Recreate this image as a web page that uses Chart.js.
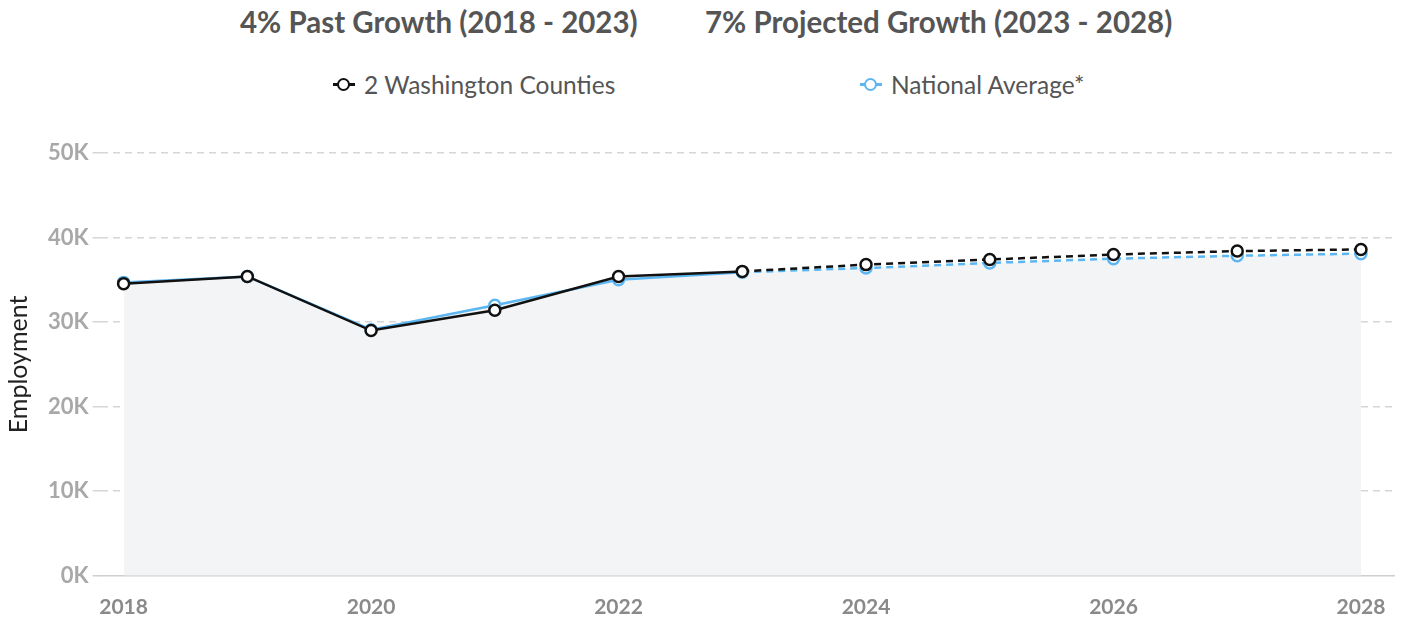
<!DOCTYPE html>
<html>
<head>
<meta charset="utf-8">
<script src="https://cdn.jsdelivr.net/npm/chart.js@4.4.1/dist/chart.umd.min.js"></script>
<style>
body{margin:0;background:#fff;font-family:Lato,"Open Sans",sans-serif;}
#wrap{position:relative;width:1402px;height:622px;overflow:hidden;}
.ttl{position:absolute;top:4px;font-size:29.5px;font-weight:700;color:#555;white-space:nowrap;}
.leg{position:absolute;top:70px;font-size:24.5px;color:#555;white-space:nowrap;display:flex;align-items:center;}
.mk{position:relative;width:22px;height:14px;margin-right:9px;}
.mk:before{content:"";position:absolute;left:0;right:0;top:5.5px;height:3px;background:var(--c);}
.mk:after{content:"";position:absolute;left:4px;top:0;width:9px;height:9px;border:2.5px solid var(--c);border-radius:50%;background:#fff;}
#box{position:absolute;left:0;top:118px;width:1402px;height:513px;}
</style>
</head>
<body>
<div id="wrap">
  <div class="ttl" style="left:240px">4% Past Growth (2018 - 2023)</div>
  <div class="ttl" style="left:705px">7% Projected Growth (2023 - 2028)</div>
  <div class="leg" style="left:333px"><span class="mk" style="--c:#111"></span>2 Washington Counties</div>
  <div class="leg" style="left:860px"><span class="mk" style="--c:#5cb6f2"></span>National Average*</div>
  <div id="box"><canvas id="c"></canvas></div>
</div>
<script>
// 数据：从图上估读
const years = [2018,2019,2020,2021,2022,2023,2024,2025,2026,2027,2028];
const xTickYears = [2018,2020,2022,2024,2026,2028];
const yTicks = [0,10000,20000,30000,40000,50000];
const washington = [34550,35400,29000,31400,35400,36000,36800,37400,38000,38400,38600];
const national   = [34700,35400,29100,32000,35000,35900,36400,37000,37500,37850,38100];
const lastActual = 5; // 2023 之后为预测，虚线

const BLACK="#111", BLUE="#5cb6f2";

function pts(arr){ return years.map((y,i)=>({x:y,y:arr[i]})); }
const dashAfter = c => c.p0DataIndex >= lastActual ? [7,5] : undefined;

function series(label, arr, color){
  return {
    label, data: pts(arr),
    borderColor: color, borderWidth: 2.5,
    pointRadius: 5.5, pointHoverRadius: 5.5, pointBorderWidth: 2.5,
    pointBackgroundColor: "#fff", pointBorderColor: color,
    tension: 0, fill: false,
    segment: { borderDash: dashAfter }
  };
}

new Chart(document.getElementById("c"), {
  type: "line",
  data: { datasets: [
    series("2 Washington Counties", washington, BLACK),
    series("National Average*", national, BLUE),
    // 底色填充（单独一层，避免分段接缝）
    { label: "fill", data: pts(national), borderWidth: 0, pointRadius: 0,
      fill: "origin", backgroundColor: "#f3f4f6" }
  ]},
  options: {
    responsive: true, maintainAspectRatio: false, animation: false,
    layout: { padding: { top: 35, right: 8, bottom: 0, left: 4 } },
    plugins: { legend: { display: false }, tooltip: { enabled: false } },
    scales: {
      x: {
        type: "linear", min: 2017.814, max: 2028.267,
        afterBuildTicks: s => { s.ticks = xTickYears.map(v=>({value:v})); },
        grid: { display: false },
        border: { color: "#cfcfcf", width: 1.5 },
        ticks: { padding: 11, color: "#8a8a8a", font: { family: "Lato", size: 21, weight: "bold" },
                 callback: v => String(v) }
      },
      y: {
        min: 0, max: 50000,
        afterBuildTicks: s => { s.ticks = yTicks.map(v=>({value:v})); },
        grid: {
          color: c => c.tick && c.tick.value === 0 ? "rgba(0,0,0,0)" : "#d6d6d6",
          tickColor: c => c.tick && c.tick.value === 0 ? "#cfcfcf" : "#d6d6d6",
          lineWidth: 1.5, tickLength: 8
        },
        border: { display: false, dash: [7,5] },
        ticks: { padding: 4, color: "#a8a8a8", font: { family: "Lato", size: 22, weight: "bold" },
                 callback: v => (v/1000) + "K" },
        title: { display: true, text: "Employment", color: "#222",
                 font: { family: "Lato", size: 25 }, padding: { top: 0, bottom: 10 } }
      }
    }
  }
});
</script>
</body>
</html>
